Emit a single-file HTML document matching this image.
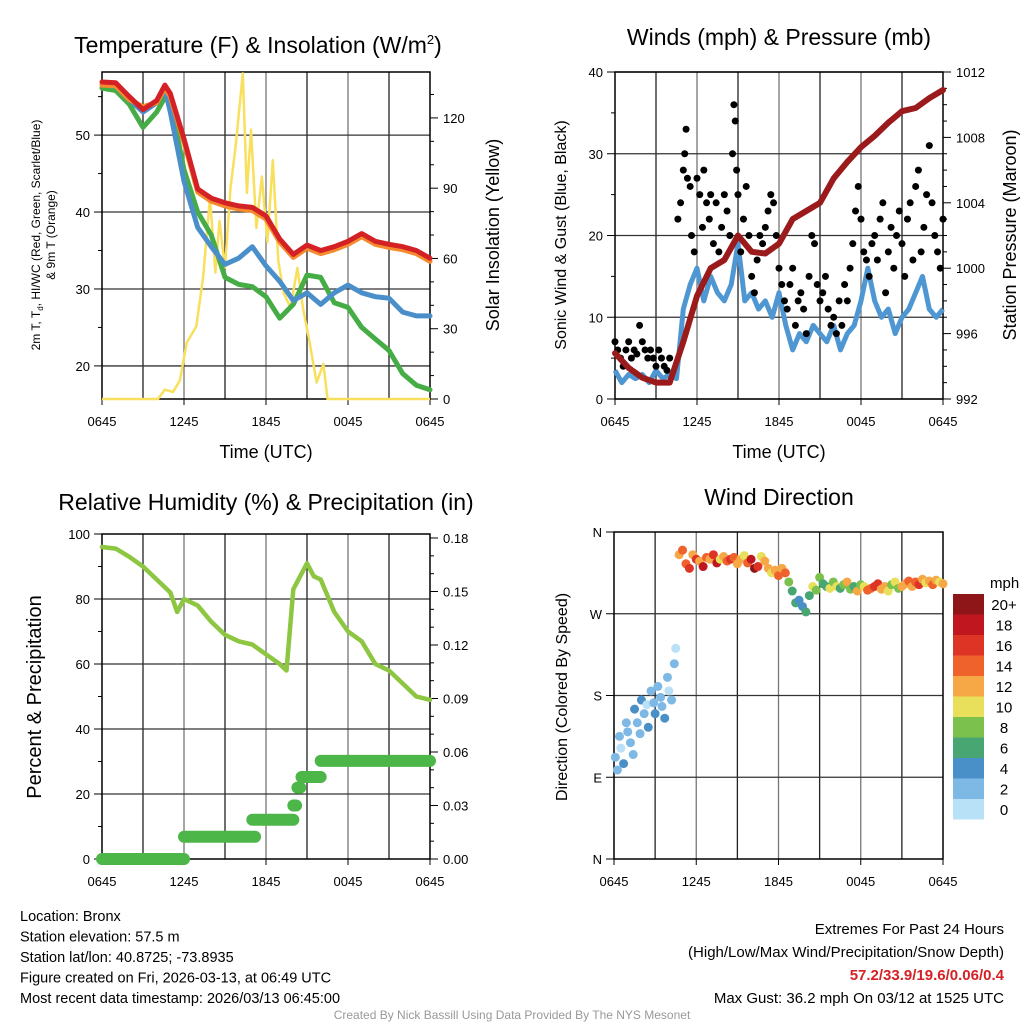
<!DOCTYPE html>
<html><head><meta charset="utf-8"><style>
html,body{margin:0;padding:0;background:#fff;}
svg{display:block;font-family:"Liberation Sans",Arial,sans-serif;}
</style></head><body>
<svg id="chart" width="1024" height="1024" viewBox="0 0 1024 1024" xmlns="http://www.w3.org/2000/svg"></svg>
<script>
// ---------- DATA ----------
const tickLabelsX = ["0645","1245","1845","0045","0645"];
// Panel 1: temperature
const tempHours = [0,1,2,3,4,4.6,5,6,7,8,9,10,11,12,13,14,15,16,17,18,19,20,21,22,23,24];
const tempRed =    [56.9,56.8,55,53.3,54.5,56.5,55.4,49.5,43,41.8,41.2,40.8,40.6,39.5,36.5,34.5,35.7,35,35.5,36.2,37.2,36.2,35.8,35.5,35,34];
const tempOrange = [56.5,56.4,54.6,53.7,54.2,56.1,55,49.1,42.6,41.4,40.8,40.4,40.2,39.1,36.1,34.1,35.3,34.6,35.1,35.8,36.8,35.8,35.4,35.1,34.6,33.6];
const tempBlue =   [56.5,56.4,54.6,53,54.2,56,53,44,38,35.5,33.2,34,35.5,33,31,28.5,29.5,28,29.5,30.5,29.5,29,28.8,27,26.5,26.5];
const tempGreen =  [56.1,55.8,54,51,53,54.9,54.5,45.5,40,37,31.5,30.6,30.3,29,26.2,28,31.8,31.5,28.2,27.6,25,23.5,22,19,17.5,16.9];
const solarHours = [0,4.1,4.6,5.2,5.7,6.2,6.9,7.4,7.9,8.3,8.6,9.0,9.4,9.8,10.3,10.6,10.9,11.3,11.7,12.1,12.5,12.9,13.3,13.8,14.3,14.7,15.2,15.7,16.2,16.5,24];
const solarVals =  [0,0,4,3,8,24,31,52,86,54,76,56,90,109,139,88,115,73,95,67,102,59,45,39,56,39,24,7,15,0,0];
const p1LeftTicks = [20,30,40,50];
const p1RightTicks = [0,30,60,90,120];
// Panel 2: winds & pressure
const windHours = [0,0.5,1,1.5,2,2.5,3,3.5,4,4.5,5,5.5,6,6.5,7,7.5,8,8.5,9,9.5,10,10.5,11,11.5,12,12.5,13,13.5,14,14.5,15,15.5,16,16.5,17,17.5,18,18.5,19,19.5,20,20.5,21,21.5,22,22.5,23,23.5,24];
const windSustained = [3.5,2,3,2.5,3,2,3.5,2.5,3,2.5,11,14,16,12,15,13,12,14,19,12,13,11,12,10,13,9,6,8,7,9,8,7,9,6,8,9,12,16,12,10,11,8,10,11,13,15,11,10,11];
const presHours = [0,1,2,3,4,5,6,7,8,9,10,11,12,13,14,15,16,17,18,19,20,21,22,23,24];
const pressure = [994.8,993.9,993.3,993.0,993.0,995.5,998.3,1000.0,1000.5,1002.0,1001.0,1000.9,1001.5,1003.0,1003.5,1004,1005.5,1006.5,1007.4,1008.1,1008.9,1009.6,1009.8,1010.4,1010.9];
const gustHours = [0,0.2,0.4,0.6,0.8,1,1.2,1.4,1.6,1.8,2,2.2,2.4,2.6,2.8,3,3.2,3.4,3.6,3.8,4,4.6,4.8,5,5.1,5.2,5.3,5.5,5.6,5.8,6,6.2,6.4,6.5,6.7,6.9,7,7.2,7.4,7.6,7.8,8,8.2,8.4,8.6,8.7,8.8,8.9,9,9.2,9.4,9.6,9.8,10,10.2,10.4,10.6,10.8,11,11.2,11.4,11.6,11.8,12,12.2,12.4,12.6,12.8,13,13.2,13.4,13.6,13.8,14,14.2,14.4,14.6,14.8,15,15.2,15.4,15.6,15.8,16,16.2,16.4,16.6,16.8,17,17.2,17.4,17.6,17.8,18,18.2,18.4,18.6,18.8,19,19.2,19.4,19.6,19.8,20,20.2,20.4,20.6,20.8,21,21.2,21.4,21.6,21.8,22,22.2,22.4,22.6,22.8,23,23.2,23.4,23.6,23.8,24];
const gustVals = [7,6,5,4,6,7,5,6,5.5,9,7,6,5,6,5,4,6,5,4,3.5,5,22,24,28,30,33,27,26,20,18,27,25,21,28,24,22,25,19,24,18,21,25,23,20,30,36,34,28,25,18,22,26,20,15,13,17,20,19,21,23,25,24,20,16,14,12,11,14,16,9,12,13,11,8,15,20,19,14,12,13,15,11,9,10,8,12,9,14,12,16,19,23,26,22,18,17,15,19,20,17,22,24,13,18,21,16,20,23,19,15,22,24,17,26,28,18,21,25,31,24,20,18,16,22];
const p2LeftTicks = [0,10,20,30,40];
const p2RightTicks = [992,996,1000,1004,1008,1012];
// Panel 3: RH & precip
const rhHours = [0,1,2,3,4,5,5.5,6,7,8,9,10,11,12,13,13.5,14,15,15.5,16,17,18,19,20,21,22,23,24];
const rhVals = [96,95.5,93,90,86,82,76,80,78,73,69,67,66,63,60,58,83,91,87,86,76,70,67,60,58,54,50,49];
const precipStart = [0,6,11,14,14.3,14.6,16];
const precipEnd =   [6,11.2,14,14.2,14.5,16,24];
const precipVals =  [0,0.0125,0.022,0.03,0.04,0.046,0.055];
const p3LeftTicks = [0,20,40,60,80,100];
const p3RightTicks = [0,0.03,0.06,0.09,0.12,0.15,0.18];
// Panel 4: wind direction
const dirHours = [0.1,0.25,0.4,0.5,0.7,0.9,1.0,1.2,1.4,1.5,1.7,1.9,2.0,2.2,2.4,2.5,2.7,2.9,3.0,3.2,3.4,3.5,3.7,3.9,4.0,4.2,4.4,4.5,4.75,5,5.25,5.5,5.75,6,6.25,6.5,6.75,7,7.25,7.5,7.75,8,8.25,8.5,8.75,9,9.25,9.5,9.75,10,10.25,10.5,10.75,11,11.25,11.5,11.75,12,12.25,12.5,12.75,13,13.25,13.5,13.75,14,14.25,14.5,14.75,15,15.25,15.5,15.75,16,16.25,16.5,16.75,17,17.25,17.5,17.75,18,18.25,18.5,18.75,19,19.25,19.5,19.75,20,20.25,20.5,20.75,21,21.25,21.5,21.75,22,22.25,22.5,22.75,23,23.25,23.5,23.75,24];
const dirVals = [112,98,135,122,105,150,140,128,115,165,150,138,175,160,170,145,185,172,160,190,178,168,155,200,185,175,215,232,335,340,325,320,335,330,328,322,332,330,335,326,330,333,328,330,332,325,330,334,326,330,320,322,333,328,320,315,318,312,320,315,305,295,282,285,278,272,290,300,296,310,303,300,298,305,300,298,302,305,297,300,295,302,300,296,298,300,303,297,300,295,302,305,298,300,303,306,300,305,302,308,304,306,302,307,305,303];
const dirSpeeds = [3,2,3,1,4,2,3,2,3,4,3,2,4,3,1,4,3,2,4,3,2,3,4,2,1,2,2,1,12,14,15,16,13,17,12,19,14,13,16,18,11,13,14,17,15,13,12,10,14,19,20,17,11,13,12,10,13,14,12,15,8,7,6,5,4,7,6,10,8,9,7,7,10,8,11,6,8,13,9,7,12,9,10,14,15,17,16,12,13,11,9,10,8,13,12,14,12,15,17,13,11,12,15,12,10,13];
const dirTickLabels = ["N","E","S","W","N"];
const dirTicks = [0,90,180,270,360];
const speedBins = ["20+","18","16","14","12","10","8","6","4","2","0"];
const speedColors = ["#8e1518","#c0161f","#de3426","#f0622c","#f6a847","#e8e05a","#7bc14e","#48a672","#4a90c8","#7eb8e4","#b8e0f6"];

// ---------- HELPERS ----------
const NS = "http://www.w3.org/2000/svg";
const svg = document.getElementById("chart");
function mk(tag, attrs, parent){
  const e = document.createElementNS(NS, tag);
  for (const k in attrs) e.setAttribute(k, attrs[k]);
  (parent || svg).appendChild(e);
  return e;
}
function txt(s, x, y, size, anchor, parent, extra){
  const t = mk("text", Object.assign({x:x, y:y, "font-size":size, "text-anchor":anchor||"middle", fill:"#000"}, extra||{}), parent);
  t.textContent = s;
  return t;
}
function lin(d0,d1,r0,r1){ return v => r0 + (v-d0)/(d1-d0)*(r1-r0); }
function pathFrom(xs, ys, fx, fy){
  let d = "";
  for (let i=0;i<xs.length;i++) d += (i?"L":"M") + fx(xs[i]).toFixed(1) + "," + fy(ys[i]).toFixed(1);
  return d;
}
function frame(g, x0, x1, y0, y1, fy, hTicks){
  const fx = lin(0,24,x0,x1);
  for (let h=3; h<24; h+=3){
    const l = mk("line",{x1:fx(h),x2:fx(h),y1:y0,y2:y1,stroke: (h%6===0)?"#777":"#222","stroke-width":1.3}, g);
    
    
  }
  hTicks.forEach(v=>{
    const l = mk("line",{x1:x0,x2:x1,y1:fy(v),y2:fy(v),stroke:"#333","stroke-width":1.3}, g);
    
    
  });
  const r = mk("rect",{x:x0,y:y0,width:x1-x0,height:y1-y0,fill:"none",stroke:"#000","stroke-width":1.5}, g);
  
  
  for (let i=0;i<5;i++){
    const x = fx(i*6);
    mk("line",{x1:x,x2:x,y1:y1,y2:y1+6,stroke:"#000","stroke-width":1}, g);
    const t = txt(tickLabelsX[i], x, y1+27, 13, "middle", g);
    
    
  }
  return fx;
}
function leftTicks(g, x0, fy, ticks, labels, minor){
  ticks.forEach((v,i)=>{
    mk("line",{x1:x0-8,x2:x0,y1:fy(v),y2:fy(v),stroke:"#000","stroke-width":1}, g);
    const t = txt(labels?labels[i]:String(v), x0-12, fy(v)+5, 13, "end", g);
    
    
  });
  (minor||[]).forEach(v=> mk("line",{x1:x0-4,x2:x0,y1:fy(v),y2:fy(v),stroke:"#000","stroke-width":1}, g));
}
function rightTicks(g, x1, fy, ticks, labels, minor){
  ticks.forEach((v,i)=>{
    mk("line",{x1:x1,x2:x1+8,y1:fy(v),y2:fy(v),stroke:"#000","stroke-width":1}, g);
    const t = txt(labels?labels[i]:String(v), x1+13, fy(v)+5, 13, "start", g);
    
    
  });
  (minor||[]).forEach(v=> mk("line",{x1:x1,x2:x1+4,y1:fy(v),y2:fy(v),stroke:"#000","stroke-width":1}, g));
}
function rot(s, x, y, size, g, name){
  const t = txt(s, x, y, size, "middle", g, {transform:"rotate(-90 "+x+" "+y+")"});
  
  
  return t;
}

// ---------- PANEL 1 ----------
(function(){
  const g = mk("g",{});
  
  
  const x0=102,x1=430,y0=72,y1=399;
  const fy = lin(15.7,58.2,y1,y0);
  const fs = lin(0,139.6,y1,y0);
  const fx = frame(g,x0,x1,y0,y1,fy,p1LeftTicks);
  leftTicks(g,x0,fy,p1LeftTicks,null,[25,35,45,55]);
  rightTicks(g,x1,fs,p1RightTicks,null,[10,20,40,50,70,80,100,110,130]);
  const sp = mk("path",{d:pathFrom(solarHours,solarVals,fx,fs),fill:"none",stroke:"#f8e05e","stroke-width":2.5,"stroke-linejoin":"round"},g);
  
  
  const series = [[tempGreen,"#46ad46","dewpoint-line"],[tempBlue,"#4a8fca","wind-chill-line"],[tempOrange,"#f58a2e","temp-9m-line"],[tempRed,"#d42126","temp-2m-line"]];
  series.forEach(s=>{
    const p = mk("path",{d:pathFrom(tempHours,s[0],fx,fy),fill:"none",stroke:s[1],"stroke-width":5,"stroke-linejoin":"round","stroke-linecap":"round"},g);
    
    
  });
  const t = txt("Temperature (F) & Insolation (W/m",258,53,23,"middle",g);
  const sup = mk("tspan",{dy:-9,"font-size":13},t); sup.textContent="2";
  const cl = mk("tspan",{dy:9},t); cl.textContent=")";
  
  
  const xl = txt("Time (UTC)",266,458,18,"middle",g);
  
  
  const l1 = txt("",40,235,12,"middle",g,{transform:"rotate(-90 40 235)"});
  l1.innerHTML = '2m T, T<tspan font-size="8" dy="3">d</tspan><tspan dy="-3">, HI/WC (Red, Green, Scarlet/Blue)</tspan>';
  
  
  rot("& 9m T (Orange)",55,235,12,g,'y-axis-title-line2');
  rot("Solar Insolation (Yellow)",499,235,18,g,'right-axis-title');
})();

// ---------- PANEL 2 ----------
(function(){
  const g = mk("g",{});
  
  
  const x0=615,x1=943,y0=72,y1=399;
  const fy = lin(0,40,y1,y0);
  const fp = lin(992,1012,y1,y0);
  const fx = frame(g,x0,x1,y0,y1,fy,p2LeftTicks);
  leftTicks(g,x0,fy,p2LeftTicks,null,[5,15,25,35]);
  const pm=[]; for(let v=993;v<1012;v++) if(v%4) pm.push(v);
  rightTicks(g,x1,fp,p2RightTicks,null,pm);
  const wp = mk("path",{d:pathFrom(windHours,windSustained,fx,fy),fill:"none",stroke:"#4f97d2","stroke-width":5,"stroke-linejoin":"round"},g);
  
  
  gustHours.forEach((h,i)=>{
    const c = mk("circle",{cx:fx(h),cy:fy(gustVals[i]),r:3.5,fill:"#000"},g);
    
    
  });
  const pp = mk("path",{d:pathFrom(presHours,pressure,fx,fp),fill:"none",stroke:"#9b1a1c","stroke-width":6,"stroke-linejoin":"round","stroke-linecap":"round"},g);
  
  
  const t = txt("Winds (mph) & Pressure (mb)",779,45,23,"middle",g);
  
  
  const xl = txt("Time (UTC)",779,458,18,"middle",g);
  
  
  rot("Sonic Wind & Gust (Blue, Black)",566,235,16,g,'y-axis-title');
  rot("Station Pressure (Maroon)",1016,235,18,g,'right-axis-title');
})();

// ---------- PANEL 3 ----------
(function(){
  const g = mk("g",{});
  
  
  const x0=102,x1=430,y0=534,y1=859;
  const fy = lin(0,100,y1,y0);
  const fq = lin(0,0.18,y1,538);
  const fx = frame(g,x0,x1,y0,y1,fy,[20,40,60,80]);
  leftTicks(g,x0,fy,p3LeftTicks,null,[10,30,50,70,90]);
  rightTicks(g,x1,fq,p3RightTicks,p3RightTicks.map(v=>v.toFixed(2)),[0.01,0.02,0.04,0.05,0.07,0.08,0.1,0.11,0.13,0.14,0.16,0.17]);
  const rp = mk("path",{d:pathFrom(rhHours,rhVals,fx,fy),fill:"none",stroke:"#8dc641","stroke-width":4.5,"stroke-linejoin":"round","stroke-linecap":"round"},g);
  
  
  precipVals.forEach((v,i)=>{
    const l = mk("line",{x1:fx(precipStart[i]),x2:fx(precipEnd[i]),y1:fq(v),y2:fq(v),stroke:"#4cb648","stroke-width":12,"stroke-linecap":"round"},g);
    
    
  });
  const t = txt("Relative Humidity (%) & Precipitation (in)",266,510,23,"middle",g);
  
  
  rot("Percent & Precipitation",41,697,20,g,'y-axis-title');
})();

// ---------- PANEL 4 ----------
(function(){
  const g = mk("g",{});
  
  
  const x0=614,x1=943,y0=532,y1=859;
  const fy = lin(0,360,y1,y0);
  const fx = frame(g,x0,x1,y0,y1,fy,[90,180,270]);
  leftTicks(g,x0,fy,dirTicks,dirTickLabels,[]);
  function colorFor(s){ const idx = Math.min(10, Math.max(0, Math.floor(s/2))); return speedColors[10-idx]; }
  dirHours.forEach((h,i)=>{
    const c = mk("circle",{cx:fx(h),cy:fy(dirVals[i]),r:4.5,fill:colorFor(dirSpeeds[i]!==undefined?dirSpeeds[i]:10)},g);
    
    
  });
  const t = txt("Wind Direction",779,505,23,"middle",g);
  
  
  rot("Direction (Colored By Speed)",567,697,16,g,'y-axis-title');
  const lg = mk("g",{},g);
  
  
  const mph = txt("mph",990,588,15,"start",lg);
  
  
  speedBins.forEach((b,i)=>{
    const r = mk("rect",{x:953,y:594+i*20.5,width:31,height:20.5,fill:speedColors[i]},lg);
    
    
    const l = txt(b,1004,594+i*20.5+16,15,"middle",lg);
    
    
  });
})();

// ---------- FOOTER ----------
(function(){
  const g = mk("g",{});
  
  
  const left = ["Location: Bronx","Station elevation: 57.5 m","Station lat/lon: 40.8725; -73.8935","Figure created on Fri, 2026-03-13, at 06:49 UTC","Most recent data timestamp: 2026/03/13 06:45:00"];
  left.forEach((s,i)=>{
    const t = txt(s,20,921+i*20.5,14.5,"start",g);
    
    
  });
  const r1 = txt("Extremes For Past 24 Hours",1004,934,15,"end",g);
  
  
  const r2 = txt("(High/Low/Max Wind/Precipitation/Snow Depth)",1004,957,15,"end",g);
  
  
  const r3 = txt("57.2/33.9/19.6/0.06/0.4",1004,980,15,"end",g,{fill:"#d42126","font-weight":"bold"});
  
  
  const r4 = txt("Max Gust: 36.2 mph On 03/12 at 1525 UTC",1004,1003,15,"end",g);
  
  
  const c = txt("Created By Nick Bassill Using Data Provided By The NYS Mesonet",512,1019,12,"middle",g,{fill:"#999"});
  
  
})();
</script>
</body></html>
